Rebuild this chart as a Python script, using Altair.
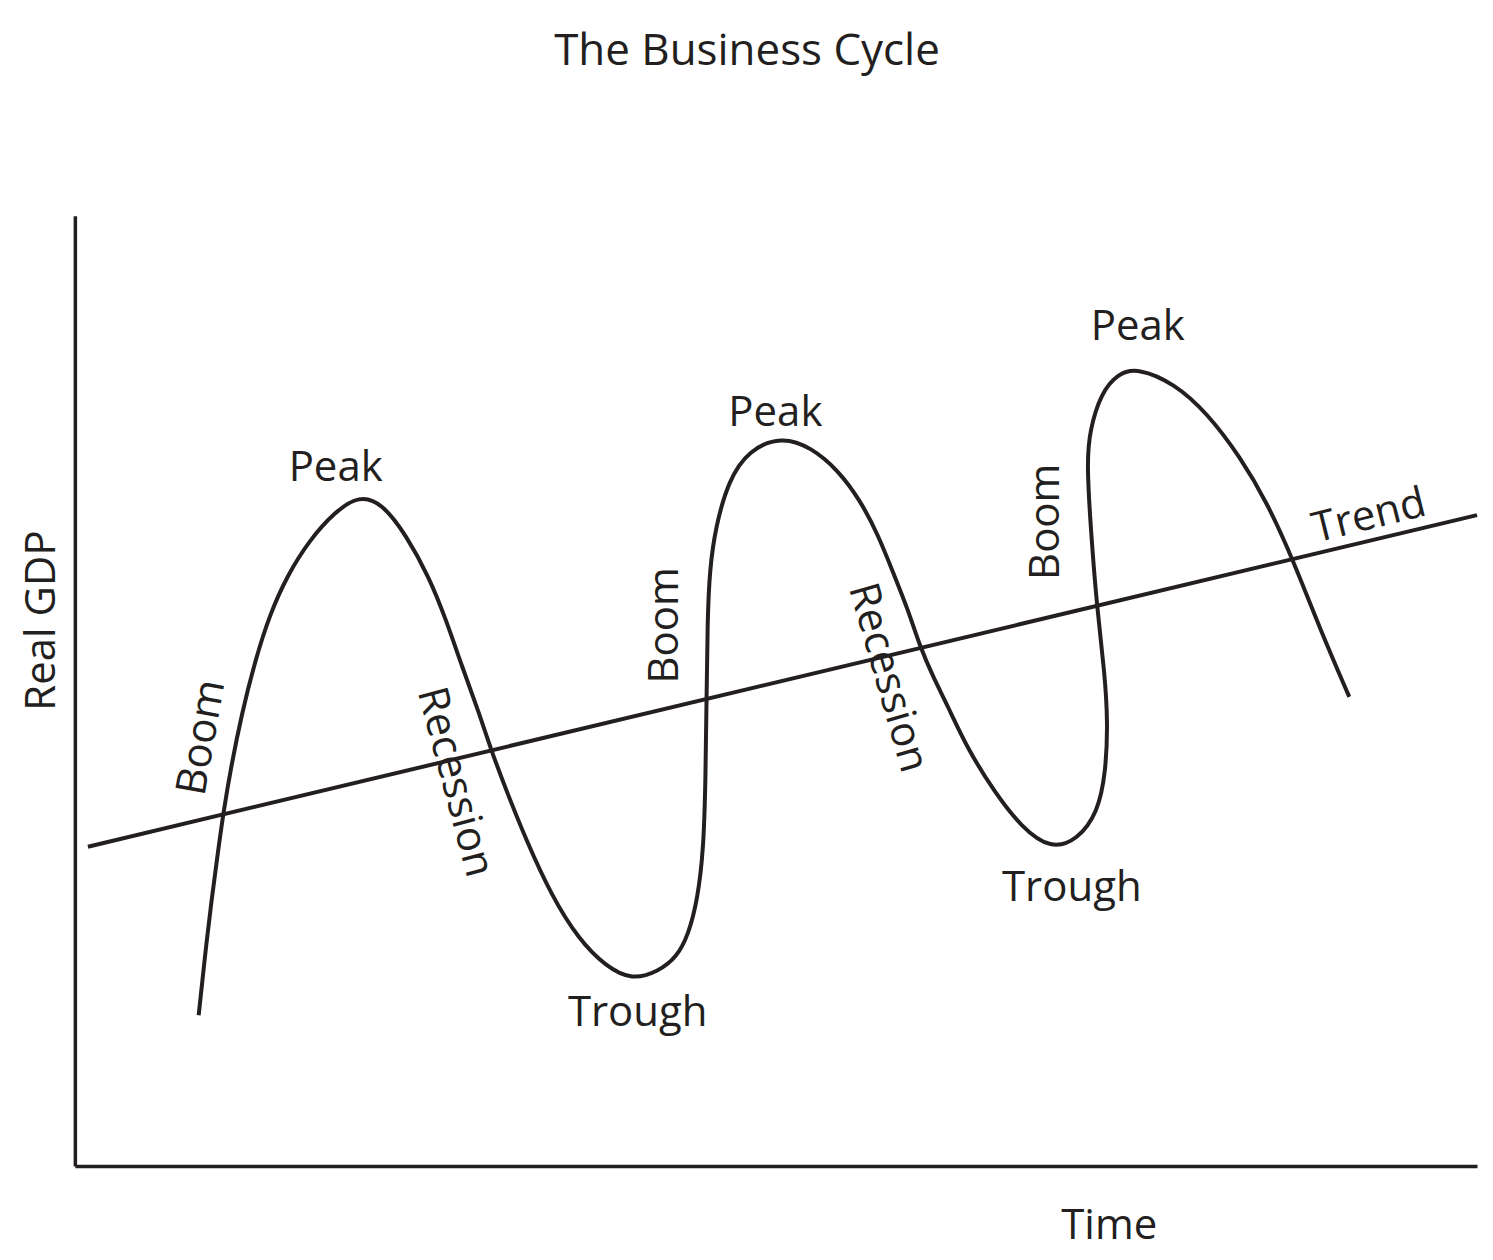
import altair as alt
import pandas as pd

FONT = "Open Sans"
INK = "#231f20"

# Business-cycle curve (time, real GDP), in axis units 0-100
curve_time = [8.83, 9.25, 9.75, 10.18, 10.60, 11.17, 11.89, 12.81, 13.88, 15.16,
              16.73, 18.51, 20.28, 21.92, 23.63, 25.27, 26.48, 27.62, 28.83, 29.68,
              30.75, 32.17, 34.02, 35.94, 37.86, 39.72, 41.64, 42.92, 43.77, 44.41,
              44.84, 44.98, 45.05, 45.12, 45.27, 45.69, 46.62, 48.04, 50.39, 52.53,
              54.45, 56.01, 57.30, 58.43, 59.43, 60.28, 61.21, 62.28, 63.70, 65.62,
              67.47, 69.61, 71.53, 72.95, 73.52, 73.67, 73.45, 72.88, 72.46, 72.17,
              72.38, 73.17, 74.38, 75.80, 78.43, 80.78, 83.13, 85.05, 86.83, 88.83,
              90.89]
curve_gdp = [15.86, 21.74, 28.05, 32.77, 37.29, 42.23, 47.48, 52.94, 57.98, 62.18,
             65.86, 68.80, 70.60, 69.75, 66.39, 61.97, 57.46, 52.52, 47.69, 43.80,
             39.60, 34.35, 28.36, 23.84, 21.01, 19.55, 20.48, 21.95, 24.37, 28.05,
             33.30, 40.65, 49.05, 57.46, 62.71, 67.23, 72.16, 75.32, 76.80, 75.63,
             73.21, 70.06, 66.39, 62.18, 58.51, 54.62, 51.47, 48.32, 43.80, 39.29,
             35.71, 33.30, 34.35, 37.18, 41.39, 46.64, 51.89, 58.93, 66.91, 73.95,
             77.42, 81.30, 83.40, 84.00, 82.35, 79.20, 74.58, 69.75, 63.97, 56.41,
             49.37]

# Trend line end points
trend_time = [0.93, 100.0]
trend_gdp = [33.6, 68.5]

# Horizontal labels
flat_text = ["Peak", "Peak", "Peak", "Trough", "Trough"]
flat_time = [18.6, 49.96, 75.8, 40.14, 71.1]
flat_gdp = [72.1, 77.9, 86.9, 14.7, 27.9]

# Rotated labels
rot_text = ["Boom", "Boom", "Boom", "Recession", "Recession", "Trend"]
rot_time = [9.04, 42.06, 69.25, 27.12, 58.0, 92.3]
rot_gdp = [45.1, 56.9, 67.8, 40.4, 51.4, 68.4]
rot_angle = [280, 270, 270, 75, 74, 346]

curve_df = pd.DataFrame({"time": curve_time, "gdp": curve_gdp,
                         "idx": list(range(len(curve_time)))})
trend_df = pd.DataFrame({"time": trend_time, "gdp": trend_gdp})
flat_df = pd.DataFrame({"label": flat_text, "time": flat_time, "gdp": flat_gdp})
rot_df = pd.DataFrame({"label": rot_text, "time": rot_time, "gdp": rot_gdp,
                       "angle": rot_angle})

xscale = alt.Scale(domain=[0, 100], nice=False, zero=False)
yscale = alt.Scale(domain=[0, 100], nice=False, zero=False)

x_axis = alt.Axis(title="Time", ticks=False, labels=False, grid=False,
                  domain=True, domainColor=INK, domainWidth=3.5,
                  titleFont=FONT, titleFontSize=42, titleFontWeight="normal",
                  titleColor=INK, titleX=1036, titleY=73,
                  titleAlign="center", titleBaseline="alphabetic")
y_axis = alt.Axis(title="Real GDP", ticks=False, labels=False, grid=False,
                  domain=True, domainColor=INK, domainWidth=3.5,
                  titleFont=FONT, titleFontSize=42, titleFontWeight="normal",
                  titleColor=INK, titleAngle=270, titleX=-20, titleY=405,
                  titleAlign="center", titleBaseline="alphabetic")

curve = alt.Chart(curve_df).mark_line(
    color=INK, strokeWidth=4, interpolate="basis"
).encode(
    x=alt.X("time:Q", scale=xscale, axis=x_axis),
    y=alt.Y("gdp:Q", scale=yscale, axis=y_axis),
    order="idx:Q",
)

trend = alt.Chart(trend_df).mark_line(color=INK, strokeWidth=4).encode(
    x=alt.X("time:Q", scale=xscale),
    y=alt.Y("gdp:Q", scale=yscale),
)

flat = alt.Chart(flat_df).mark_text(
    font=FONT, fontSize=42, color=INK, align="center", baseline="alphabetic"
).encode(
    x=alt.X("time:Q", scale=xscale),
    y=alt.Y("gdp:Q", scale=yscale),
    text="label:N",
)

rot = alt.Chart(rot_df).mark_text(
    font=FONT, fontSize=42, color=INK, align="center", baseline="middle"
).encode(
    x=alt.X("time:Q", scale=xscale),
    y=alt.Y("gdp:Q", scale=yscale),
    text="label:N",
    angle=alt.Angle("angle:Q", scale=None),
)

chart = alt.layer(curve, trend, flat, rot).properties(
    width=1405,
    height=952,
    autosize="none",
    padding={"left": 67, "top": 207, "right": 8, "bottom": 88},
    title=alt.TitleParams("The Business Cycle", font=FONT, fontSize=44,
                          fontWeight="normal", color=INK, anchor="middle",
                          frame="group", dx=-29, offset=107,
                          baseline="alphabetic"),
).configure_view(stroke=None)

chart.save("out.html", embed_options={"renderer": "svg", "actions": False})
